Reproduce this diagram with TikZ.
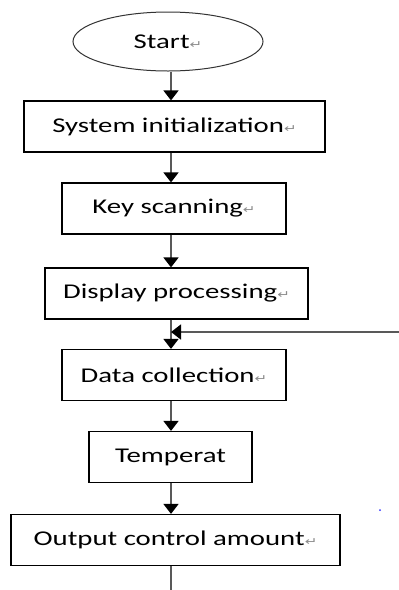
\documentclass[tikz,border=0pt]{standalone}
\usepackage{fontspec}
\setmainfont{Carlito}
\newfontfamily\symfont{DejaVu Sans}
\usepackage{tikz}
\usetikzlibrary{arrows.meta,positioning,shapes.geometric}
\newcommand{\pmark}{{\symfont\fontsize{11}{12}\selectfont\color{black!45}↵}}
\newcommand{\wide}[1]{\scalebox{1.37}[1]{#1}}
\tikzstyle{proc}=[rectangle, draw=black, line width=1.2pt, minimum height=51pt,
  inner sep=0pt, font=\fontsize{21}{24}\selectfont]
\tikzstyle{term}=[ellipse, draw=black!80, line width=1pt, minimum width=190pt,
  minimum height=59pt, inner sep=0pt, font=\fontsize{21}{24}\selectfont]
\tikzstyle{arrow}=[-{Triangle[length=10pt,width=15pt,color=black]}, line width=1.6pt, draw=black!65]

\begin{document}
\begin{tikzpicture}[x=1pt,y=-1pt]
\useasboundingbox (0,0) rectangle (399,590);
\coordinate (spine) at (171,0);
% 流程节点
\node[term] (start) at (168,41.5) {\wide{Start\pmark}};
\node[proc, minimum width=301pt] (init) at (174.5,126.5) {\wide{System initialization\pmark}};
\node[proc, minimum width=224pt] (key)  at (174,208.5) {\wide{Key scanning\pmark}};
\node[proc, minimum width=263pt] (disp) at (176.5,293.5) {\wide{Display processing\pmark}};
\node[proc, minimum width=224pt] (data) at (174,375) {\wide{Data collection\pmark}};
\node[proc, minimum width=163pt] (temp) at (170.5,457) {\wide{Temperat}};
\node[proc, minimum width=329pt] (outp) at (175.5,540) {\wide{Output control amount\pmark}};
% 连接
\foreach \a/\b in {start/init, init/key, key/disp, disp/data, data/temp, temp/outp}
  \draw[arrow] (\a.south -| spine) -- (\b.north -| spine);
% 回路
\coordinate (back) at (399,332);
\draw[arrow] (back) -- (back -| spine);
\coordinate (tail) at (171,590);
\draw[line width=1.6pt, black!65] (outp.south -| spine) -- (tail);
\fill[blue!80] (380,510) circle (1pt);
\end{tikzpicture}
\end{document}
